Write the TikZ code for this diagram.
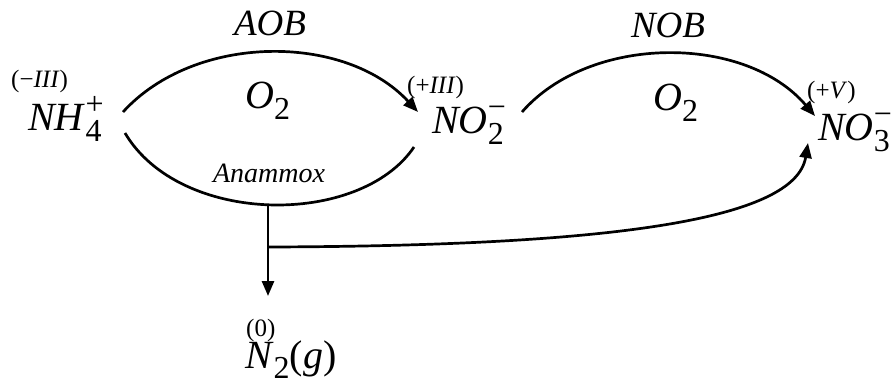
\documentclass[tikz,border=0pt]{standalone}
\usepackage{fontspec}
\setmainfont{Liberation Serif}
\usetikzlibrary{arrows.meta}
\newcommand\bigf{\fontsize{40}{44}\selectfont}
\newcommand\scrf{\fontsize{32}{34}\selectfont}
\newcommand\oxf{\fontsize{25}{27}\selectfont}
\newcommand\chemion[3]{\textit{#1}\rlap{\raisebox{0.4em}{\scrf #3}}\raisebox{-0.28em}{\scrf #2}}
\begin{document}
\begin{tikzpicture}[x=1pt,y=-1pt,
  conn/.style={line width=2.7pt},
  tip/.style={-{Triangle[length=15pt,width=12pt]}},
  chem/.style={inner sep=0pt,font=\bigf},
  ox/.style={inner sep=0pt,font=\oxf},
  lbl/.style={inner sep=0pt}]
\useasboundingbox (0,0) rectangle (896,383);
% species
\node[chem,anchor=base west] (nh4) at (28,130) {\chemion{NH}{4}{+}};
\node[ox,anchor=base west] (oxnh4) at (11,87) {(−\textit{III})};
\node[chem,anchor=base west] (no2) at (432,133) {\chemion{NO}{2}{−}};
\node[ox,anchor=base west] (oxno2) at (407,93) {(+\textit{III})};
\node[chem,anchor=base west] (no3) at (818,140) {\chemion{NO}{3}{−}};
\node[ox,anchor=base west] (oxno3) at (807,98) {(+\textit{V})};
\node[chem,anchor=base west] (n2) at (245,368) {\textit{N}\raisebox{-0.25em}{\scrf 2}(\textit{g})};
\node[ox,anchor=base west] (oxn2) at (246,336) {(0)};
% labels
\node[lbl,anchor=base,font=\fontsize{37}{40}\selectfont] (aob) at (270,35) {\textit{AOB}};
\node[lbl,anchor=base,font=\fontsize{37}{40}\selectfont] (nob) at (668,37) {\textit{NOB}};
\node[chem,anchor=base west] (o2a) at (245,108) {\textit{O}\raisebox{-0.28em}{\scrf 2}};
\node[chem,anchor=base west] (o2b) at (653,110) {\textit{O}\raisebox{-0.28em}{\scrf 2}};
\node[lbl,anchor=base,font=\fontsize{28}{30}\selectfont] (anam) at (269,182) {\textit{Anammox}};
% connector end points
\coordinate (a1s) at (123,112);
\coordinate (a1e) at (418,112);
\coordinate (b1s) at (125,133);
\coordinate (b1e) at (414,147);
\coordinate (bot) at (268,205);
\coordinate (n2t) at (268,296);
\coordinate (br) at (268,247);
\coordinate (no3b) at (808,143);
\coordinate (a2s) at (522,112);
\coordinate (a2e) at (815,116);
% connectors
\draw[conn,tip] (a1s) .. controls (195,33) and (345,33) .. (a1e);
\draw[conn] (b1s) .. controls (180,226) and (360,227) .. (b1e);
\draw[conn,tip] (bot) -- (n2t);
\draw[conn,tip] (br) .. controls (600,246) and (795,222) .. (no3b);
\draw[conn,tip] (a2s) .. controls (590,34) and (745,34) .. (a2e);
\end{tikzpicture}
\end{document}
